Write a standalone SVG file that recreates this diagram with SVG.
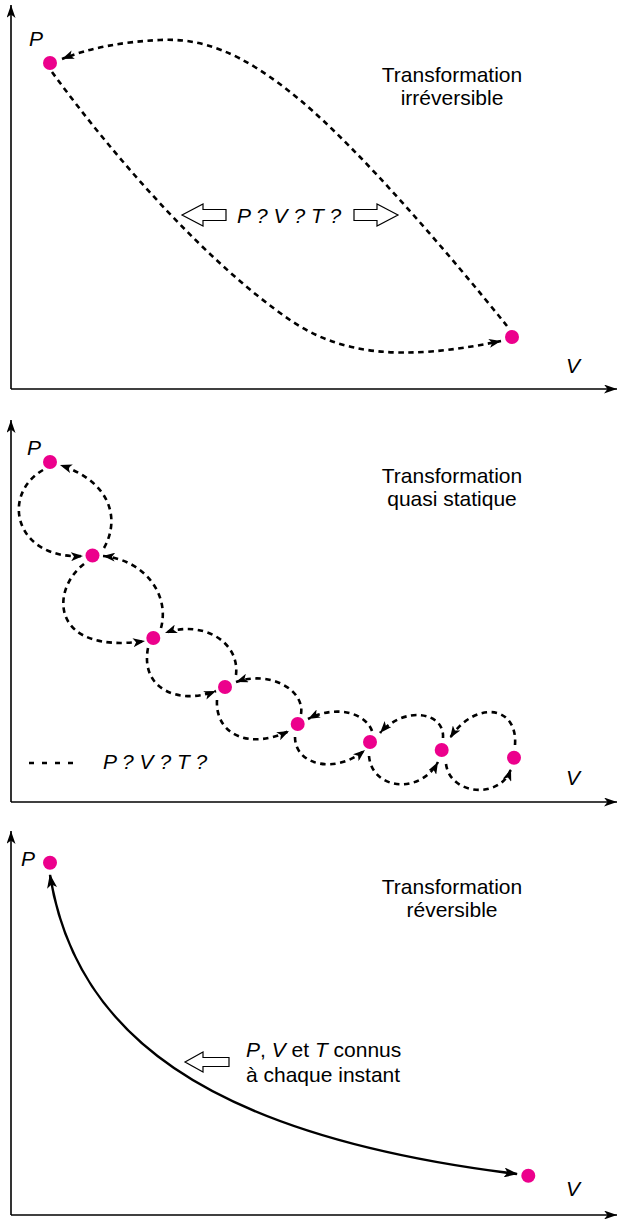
<svg xmlns="http://www.w3.org/2000/svg" width="619" height="1219" viewBox="0 0 619 1219">
<style>
.axis{fill:none;stroke:#000;stroke-width:1.6}
.dash{fill:none;stroke:#000;stroke-width:2.6;stroke-dasharray:5.5 4.5}
.solid{fill:none;stroke:#000;stroke-width:2.5}
.dot{fill:#EC008C}
.blk{fill:#fff;stroke:#000;stroke-width:1.2}
text{font-family:"Liberation Sans",Arial,sans-serif;font-size:21px;fill:#000}
.it{font-style:italic}
.c{text-anchor:middle}
</style>
<defs>
<marker id="ax" viewBox="0 0 13 9" refX="13" refY="4.5" markerWidth="13" markerHeight="9" markerUnits="userSpaceOnUse" orient="auto"><path d="M0,0 L13,4.5 L0,9 L3.5,4.5 z" fill="#000"/></marker>
<marker id="ah" viewBox="0 0 12 9" refX="12" refY="4.5" markerWidth="12" markerHeight="9" markerUnits="userSpaceOnUse" orient="auto"><path d="M0,0 L12,4.5 L0,9 L3,4.5 z" fill="#000"/></marker>
<marker id="sh" viewBox="0 0 14 10" refX="13" refY="5" markerWidth="14" markerHeight="10" markerUnits="userSpaceOnUse" orient="auto-start-reverse"><path d="M0,0 L14,5 L0,10 L3.5,5 z" fill="#000"/></marker>
</defs>

<g id="axes">
<path class="axis" d="M11,389 L11,5" marker-end="url(#ax)"/>
<path class="axis" d="M11,389 L617,389" marker-end="url(#ax)"/>
<path class="axis" d="M11,802 L11,420" marker-end="url(#ax)"/>
<path class="axis" d="M11,802 L617,802" marker-end="url(#ax)"/>
<path class="axis" d="M11,1215 L11,831" marker-end="url(#ax)"/>
<path class="axis" d="M11,1215 L617,1215" marker-end="url(#ax)"/>
</g>

<g id="connectors">
<path class="dash" d="M52,72 C120,165 210,265 290,320 C340,354 400,362 501,341" marker-end="url(#ah)"/>
<path class="dash" d="M507,326 C450,255 360,150 300,100 C240,50 200,38 160,40 C120,42 90,48 62,59" marker-end="url(#ah)"/>

<path class="dash" d="M43,470 C0,495 15,560 83,556" marker-end="url(#ah)"/>
<path class="dash" d="M104,548 C120,520 112,482 60,465" marker-end="url(#ah)"/>
<path class="dash" d="M84,564 C50,590 50,655 145,641" marker-end="url(#ah)"/>
<path class="dash" d="M161,628 C170,595 145,560 103,556" marker-end="url(#ah)"/>
<path class="dash" d="M148,648 C140,690 180,705 216,691" marker-end="url(#ah)"/>
<path class="dash" d="M236,675 C240,640 200,620 165,633" marker-end="url(#ah)"/>
<path class="dash" d="M217,700 C215,735 250,750 289,731" marker-end="url(#ah)"/>
<path class="dash" d="M301,714 C305,690 270,670 236,682" marker-end="url(#ah)"/>
<path class="dash" d="M295,737 C295,765 335,775 365,750" marker-end="url(#ah)"/>
<path class="dash" d="M372,731 C365,712 335,705 308,719" marker-end="url(#ah)"/>
<path class="dash" d="M369,756 C372,790 420,795 438,762" marker-end="url(#ah)"/>
<path class="dash" d="M443,738 C445,712 405,705 380,733" marker-end="url(#ah)"/>
<path class="dash" d="M446,764 C450,795 500,800 511,769" marker-end="url(#ah)"/>
<path class="dash" d="M515,745 C518,705 475,700 450,738" marker-end="url(#ah)"/>

<path class="solid" d="M50,875 C75,1030 200,1135 517,1174" marker-start="url(#sh)" marker-end="url(#sh)"/>
</g>

<g id="panel-irreversible">
<circle class="dot" cx="50" cy="63" r="7"/>
<circle class="dot" cx="512" cy="337" r="7"/>
<text class="it" x="29" y="46">P</text>
<text class="it" x="566" y="373">V</text>
<text class="c" x="452" y="82">Transformation</text>
<text class="c" x="452" y="105">irréversible</text>
<polygon class="blk" points="182,215 203,204 203,209.5 226,209.5 226,220.5 203,220.5 203,226"/>
<polygon class="blk" points="398,215 377,204 377,209.5 354,209.5 354,220.5 377,220.5 377,226"/>
<text class="it" x="237" y="223">P ? V ? T ?</text>
</g>

<g id="panel-quasistatique">
<circle class="dot" cx="50" cy="462" r="7"/>
<circle class="dot" cx="92.5" cy="555.5" r="7"/>
<circle class="dot" cx="153.3" cy="638" r="7"/>
<circle class="dot" cx="225" cy="687" r="7"/>
<circle class="dot" cx="297.7" cy="724" r="7"/>
<circle class="dot" cx="370" cy="742" r="7"/>
<circle class="dot" cx="441.7" cy="750" r="7"/>
<circle class="dot" cx="514" cy="757.7" r="7"/>
<text class="it" x="27" y="455">P</text>
<text class="it" x="566" y="785">V</text>
<text class="c" x="452" y="483">Transformation</text>
<text class="c" x="452" y="506">quasi statique</text>
<path d="M29,763 L73,763" fill="none" stroke="#000" stroke-width="2.5" stroke-dasharray="5 8"/>
<text class="it" x="103" y="769">P ? V ? T ?</text>
</g>

<g id="panel-reversible">
<circle class="dot" cx="50" cy="862.7" r="7"/>
<circle class="dot" cx="528.3" cy="1175.7" r="7"/>
<text class="it" x="21" y="866">P</text>
<text class="it" x="566" y="1196">V</text>
<text class="c" x="452" y="894">Transformation</text>
<text class="c" x="452" y="917">réversible</text>
<polygon class="blk" points="185,1062 203,1052 203,1057.5 229,1057.5 229,1066.5 203,1066.5 203,1072"/>
<text x="246" y="1057"><tspan class="it">P</tspan>, <tspan class="it">V</tspan> et <tspan class="it">T</tspan> connus</text>
<text x="246" y="1082">à chaque instant</text>
</g>
</svg>
